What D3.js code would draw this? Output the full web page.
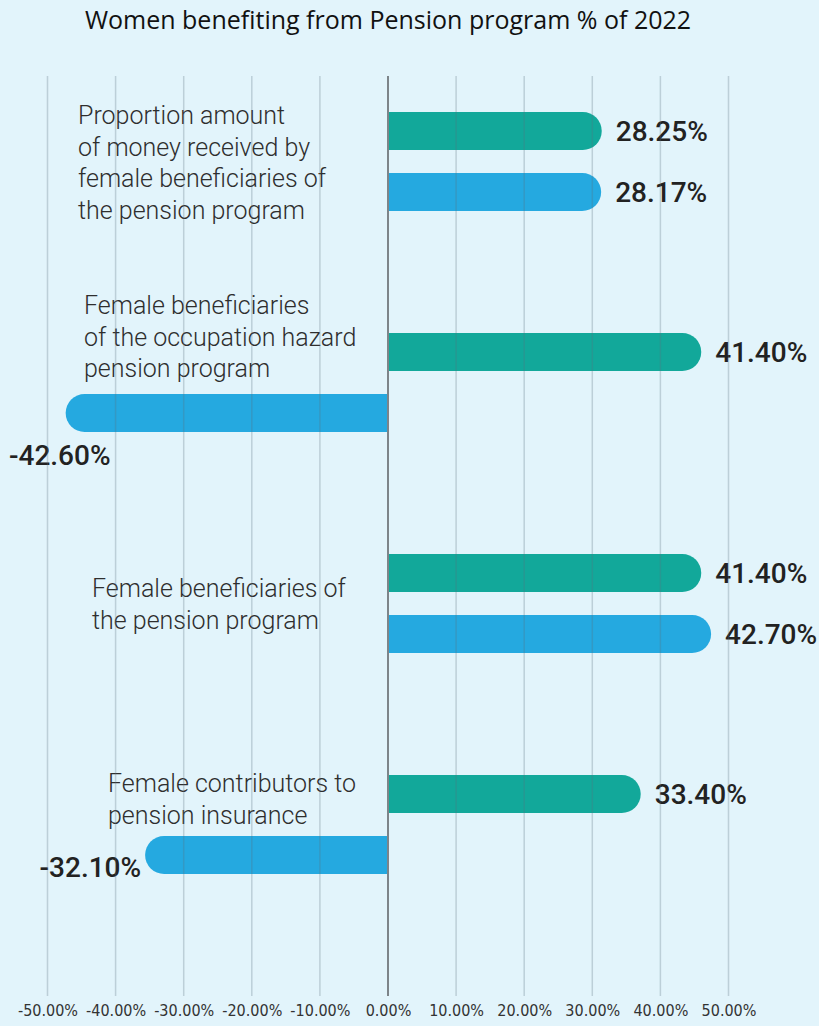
<!DOCTYPE html>
<html>
<head>
<meta charset="utf-8">
<script src="https://cdn.jsdelivr.net/npm/d3@7"></script>
<style>
  body { margin: 0; background: #e2f4fb; }
  svg { display: block; }
</style>
</head>
<body>
<div id="chart"></div>
<script>
// categories (label lines) and the two series
var categories = [
  ["Proportion amount", "of money received by", "female beneficiaries of", "the pension program"],
  ["Female beneficiaries", "of the occupation hazard", "pension program"],
  ["Female beneficiaries of", "the pension program"],
  ["Female contributors to", "pension insurance"]
];
var seriesGreen = [28.25, 41.40, 41.40, 33.40];
var seriesBlue = [28.17, -42.60, 42.70, -32.10];
var tickValues = [-50, -40, -30, -20, -10, 0, 10, 20, 30, 40, 50];
var title = "Women benefiting from Pension program % of 2022";

var width = 819,
  height = 1026,
  green = "#12a89a",
  blue = "#25a9e0";

// label placement (left edge and first baseline offset from group top)
var labelLeft = [78, 84, 92, 108],
  labelTop = [73, 42, 104, 78];

var svg = d3.select("#chart").append("svg")
  .attr("width", width)
  .attr("height", height);

svg.append("rect").attr("width", width).attr("height", height).attr("fill", "#e2f4fb");

var x = d3.scaleLinear().domain([-50, 50]).range([47.5, 728.5]);
// bars are drawn on a slightly tighter scale than the axis, as in the original
var xBar = d3.scaleLinear().domain([-45, 45]).range([x(-50), x(50)]);

var rows = categories.map(function (c, i) {
  return { key: "c" + i, lines: c, values: [
    { s: "green", v: seriesGreen[i] },
    { s: "blue", v: seriesBlue[i] }
  ] };
});

var y0 = d3.scaleBand().domain(rows.map(function (d) { return d.key; }))
  .range([51, 935]);
var y1 = d3.scaleBand().domain(["green", "blue"])
  .range([61, 160]).paddingInner(0.377);

svg.append("text")
  .attr("x", 388).attr("y", 29)
  .attr("text-anchor", "middle")
  .style("font-family", "'Open Sans', sans-serif")
  .style("font-size", "25px")
  .attr("fill", "#111")
  .text(title);

function barPath(v, top, h) {
  var x0 = xBar(0), x1 = xBar(v), r = h / 2;
  if (v >= 0) {
    return "M" + x0 + "," + top + "H" + (x1 - r) +
      "A" + r + "," + r + " 0 0 1 " + (x1 - r) + "," + (top + h) +
      "H" + x0 + "Z";
  }
  return "M" + x0 + "," + top + "H" + (x1 + r) +
    "A" + r + "," + r + " 0 0 0 " + (x1 + r) + "," + (top + h) +
    "H" + x0 + "Z";
}

var groups = svg.selectAll(".grp").data(rows).enter().append("g")
  .attr("class", "grp")
  .attr("transform", function (d) { return "translate(0," + y0(d.key) + ")"; });

groups.selectAll("path.bar").data(function (d) { return d.values; }).enter()
  .append("path")
  .attr("class", "bar")
  .attr("fill", function (d) { return d.s == "green" ? green : blue; })
  .attr("d", function (d) { return barPath(d.v, y1(d.s), y1.bandwidth()); });

// gridlines drawn over the bars
svg.append("g").selectAll("line").data(tickValues).enter().append("line")
  .attr("x1", function (d) { return x(d); })
  .attr("x2", function (d) { return x(d); })
  .attr("y1", 76).attr("y2", 996)
  .attr("stroke", function (d) { return d == 0 ? "#7d8489" : "rgba(90,110,125,0.28)"; })
  .attr("stroke-width", function (d) { return d == 0 ? 2 : 1.5; });

// category labels
groups.each(function (d, i) {
  var t = d3.select(this).append("text")
    .attr("x", labelLeft[i])
    .attr("y", labelTop[i])
    .style("font-family", "Roboto, sans-serif")
    .style("font-weight", 300)
    .style("font-size", "25px")
    .attr("fill", "#2e2e2e");
  d.lines.forEach(function (l, j) {
    t.append("tspan").attr("x", labelLeft[i]).attr("dy", j == 0 ? 0 : 31.5).text(l);
  });
});

// value labels
groups.selectAll("text.val").data(function (d) { return d.values; }).enter()
  .append("text")
  .attr("class", "val")
  .style("font-family", "Roboto, sans-serif")
  .style("font-weight", 500)
  .style("font-size", "28px")
  .attr("fill", "#222")
  .text(function (d) { return d.v.toFixed(2) + "%"; })
  .each(function (d) {
    var t = d3.select(this), top = y1(d.s), h = y1.bandwidth();
    if (d.v >= 0) {
      t.attr("x", xBar(d.v) + 14).attr("y", top + h / 2 + 10);
    } else {
      var w = this.getComputedTextLength();
      if (xBar(d.v) - 5 - w > 5) {
        t.attr("text-anchor", "end").attr("x", xBar(d.v) - 4).attr("y", top + h + 3);
      } else {
        t.attr("x", 9).attr("y", top + h + 33);
      }
    }
  });

// x axis
var axis = svg.append("g")
  .attr("transform", "translate(0,1002)")
  .call(d3.axisBottom(x).tickValues(tickValues).tickSize(0)
    .tickFormat(function (d) { return d.toFixed(2) + "%"; }));
axis.select(".domain").remove();
axis.selectAll("text")
  .style("font-family", "'Liberation Sans Narrow', 'DejaVu Sans Condensed', sans-serif")
  .style("font-size", "16px")
  .attr("fill", "#333");
</script>
</body>
</html>
